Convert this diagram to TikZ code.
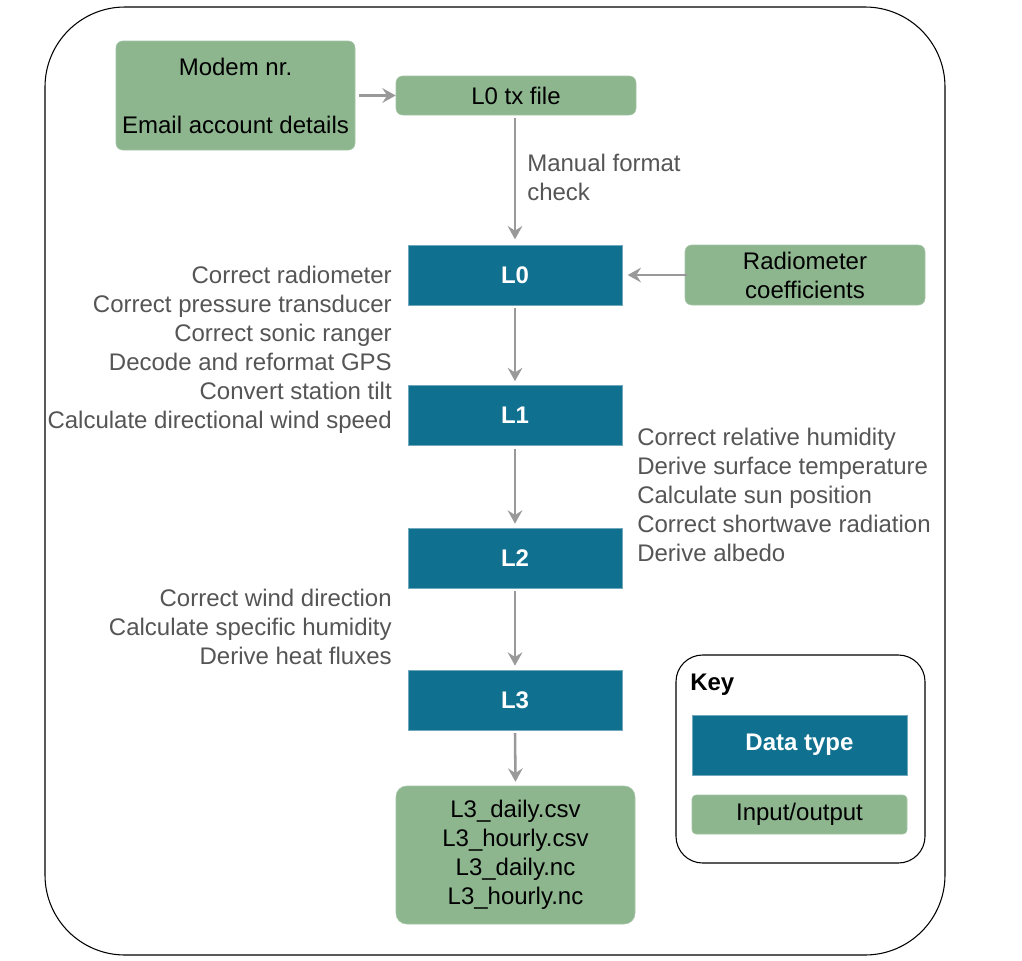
\documentclass[tikz,border=0pt]{standalone}
\usepackage{fontspec}
\setmainfont{Liberation Sans}
\usetikzlibrary{arrows.meta}
\definecolor{dblue}{HTML}{10708F}
\definecolor{igreen}{HTML}{8DB68F}
\definecolor{agray}{HTML}{999999}
\definecolor{tgray}{HTML}{555555}
\tikzset{
  datanode/.style={fill=dblue, draw=dblue!60!white, line width=0.5pt, text=white, font=\fontsize{18}{21.75}\selectfont\bfseries, inner sep=0pt},
  ionode/.style={fill=igreen, draw=igreen!80!white, rounded corners=5pt, text=black, font=\fontsize{18}{21.75}\selectfont, inner sep=0pt, align=center},
  flow/.style={draw=agray, line width=1.9pt, -{Stealth[length=10pt,width=11pt,inset=3.5pt]}},
  lbl/.style={text=tgray, font=\fontsize{18}{21.75}\selectfont, inner sep=0pt},
}
\begin{document}
\begin{tikzpicture}[x=0.75pt,y=-0.75pt]
\useasboundingbox (0,0) rectangle (1022,961);
\fill[white] (0,0) rectangle (1022,961);
% outer frame
\draw[black, line width=0.8pt, rounded corners=60pt] (45,7) rectangle (945,955);
% nodes
\node[ionode, minimum width=239*0.75pt, minimum height=109*0.75pt] (modem) at (235.5,95.5) {Modem nr.\\[21.75pt]Email account details};
\node[ionode, minimum width=240*0.75pt, minimum height=39*0.75pt] (tx) at (516,95.5) {L0 tx file};
\node[datanode, minimum width=214*0.75pt, minimum height=60*0.75pt] (L0) at (515,275) {L0};
\node[ionode, minimum width=240*0.75pt, minimum height=60*0.75pt] (rad) at (805,275) {Radiometer\\coefficients};
\node[datanode, minimum width=214*0.75pt, minimum height=60*0.75pt] (L1) at (515,415.5) {L1};
\node[datanode, minimum width=214*0.75pt, minimum height=60*0.75pt] (L2) at (515,558) {L2};
\node[datanode, minimum width=214*0.75pt, minimum height=60*0.75pt] (L3) at (515,700) {L3};
\node[ionode, rounded corners=8pt, minimum width=239*0.75pt, minimum height=138*0.75pt] (out) at (515.5,855) {L3\_daily.csv\\L3\_hourly.csv\\L3\_daily.nc\\L3\_hourly.nc};
% connectors
\draw[flow] ([xshift=3pt]modem.east) -- (tx.west);
\draw[flow] ([yshift=-2pt]tx.south -| L0.north) -- ([yshift=4pt]L0.north);
\draw[flow] ([xshift=2pt]rad.west) -- ([xshift=4pt]L0.east);
\draw[flow] ([yshift=-2pt]L0.south) -- ([yshift=3pt]L1.north);
\draw[flow] ([yshift=-2pt]L1.south) -- ([yshift=3pt]L2.north);
\draw[flow] ([yshift=-2pt]L2.south) -- ([yshift=3pt]L3.north);
\draw[flow] ([yshift=-2pt]L3.south) -- ([yshift=3pt]out.north);
% labels
\node[lbl, anchor=north west, align=left] (manual) at (527,154) {Manual format\\check};
\node[lbl, anchor=north east, align=right] (t1) at (392,266) {Correct radiometer\\Correct pressure transducer\\Correct sonic ranger\\Decode and reformat GPS\\Convert station tilt\\Calculate directional wind speed};
\node[lbl, anchor=north west, align=left] (t2) at (637,428) {Correct relative humidity\\Derive surface temperature\\Calculate sun position\\Correct shortwave radiation\\Derive albedo};
\node[lbl, anchor=north east, align=right] (t3) at (392,589) {Correct wind direction\\Calculate specific humidity\\Derive heat fluxes};
% key
\draw[black, line width=0.8pt, rounded corners=20pt] (676,655) rectangle (925,863);
\node[anchor=west, inner sep=0pt, font=\fontsize{18}{21.75}\selectfont\bfseries] (key) at (690,685) {Key};
\node[datanode, minimum width=215*0.75pt, minimum height=60*0.75pt] (kd) at (799.5,745) {Data type};
\node[ionode, rounded corners=3pt, minimum width=215*0.75pt, minimum height=39*0.75pt] (ki) at (799.5,814.5) {Input/output};
\end{tikzpicture}
\end{document}
